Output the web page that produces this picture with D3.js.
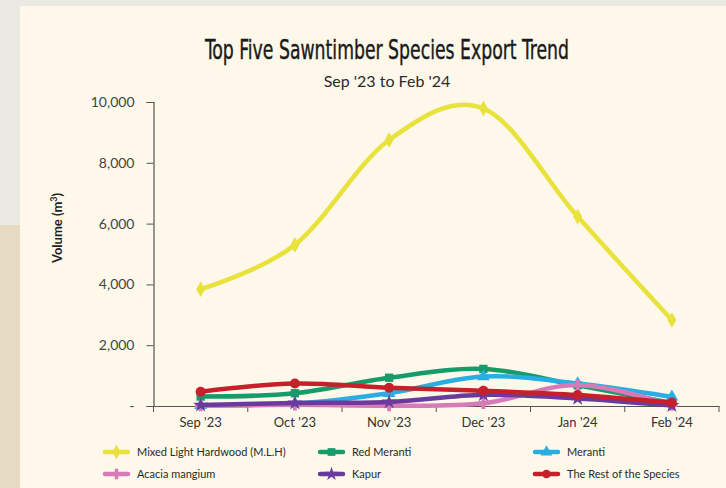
<!DOCTYPE html>
<html>
<head>
<meta charset="utf-8">
<script src="https://cdn.jsdelivr.net/npm/d3@7"></script>
<style>
  body { margin: 0; background: #ebe9e4; }
  svg { display: block; }
</style>
</head>
<body>
<div id="chart"></div>
<script>
// Data
var months = ["Sep '23", "Oct '23", "Nov '23", "Dec '23", "Jan '24", "Feb '24"];
var seriesNames = ["Mixed Light Hardwood (M.L.H)", "Red Meranti", "Meranti",
  "Acacia mangium", "Kapur", "The Rest of the Species"];
var mlh = [3840, 5300, 8750, 9790, 6230, 2830];
var redMeranti = [310, 420, 930, 1220, 680, 100];
var meranti = [20, 80, 420, 970, 740, 300];
var acacia = [10, 40, 10, 90, 690, 30];
var kapur = [30, 100, 130, 370, 250, 15];
var rest = [470, 740, 600, 500, 360, 110];
var yTicks = [0, 2000, 4000, 6000, 8000, 10000];

var allValues = [mlh, redMeranti, meranti, acacia, kapur, rest];
var colors = ["#e9e23c", "#169b6b", "#29aee3", "#d77ab7", "#6a3b9c", "#c6202b"];
var symbols = [d3.symbolDiamond, d3.symbolSquare, d3.symbolTriangle,
  d3.symbolCross, d3.symbolStar, d3.symbolCircle];

var svgWidth = 726;
var svgHeight = 488;

var svg = d3.select("#chart")
  .append("svg")
  .attr("width", svgWidth)
  .attr("height", svgHeight);

// backdrop: textured strip on the left, cream panel
svg.append("rect").attr("x", 0).attr("y", 0).attr("width", svgWidth).attr("height", svgHeight)
  .attr("fill", "#ebe9e4");
svg.append("rect").attr("x", 0).attr("y", 225).attr("width", 20).attr("height", 263)
  .attr("fill", "#e6dbc2");
svg.append("rect").attr("x", 20).attr("y", 6).attr("width", svgWidth - 20).attr("height", svgHeight - 6)
  .attr("fill", "#fdf8ea");

var labelFont = "Lato, 'Open Sans', sans-serif";

// titles
svg.append("text")
  .attr("x", 387)
  .attr("y", 59)
  .attr("text-anchor", "middle")
  .attr("font-family", "'Liberation Sans Narrow', 'DejaVu Sans Condensed', sans-serif")
  .attr("font-size", 27)
  .attr("fill", "#1a1a1a")
  .attr("stroke", "#1a1a1a")
  .attr("stroke-width", 0.4)
  .attr("textLength", 364)
  .attr("lengthAdjust", "spacingAndGlyphs")
  .text("Top Five Sawntimber Species Export Trend");

svg.append("text")
  .attr("x", 387)
  .attr("y", 87)
  .attr("text-anchor", "middle")
  .attr("font-family", labelFont)
  .attr("font-size", 16)
  .attr("fill", "#2a2a2a")
  .text("Sep '23 to Feb '24");

// scales
var x = d3.scaleBand()
  .domain(months)
  .range([153.5, 719]);

var y = d3.scaleLinear()
  .domain([0, 10000])
  .range([406, 102]);

// y axis
var leftAxis = d3.axisLeft(y)
  .tickValues(yTicks)
  .tickSize(7)
  .tickPadding(12)
  .tickFormat(d => d === 0 ? "-" : d3.format(",")(d));

var yAxisG = svg.append("g")
  .attr("transform", "translate(153.5,0)")
  .call(leftAxis);
yAxisG.select(".domain").attr("stroke", "#555").attr("stroke-width", 1.2);
yAxisG.selectAll(".tick line").attr("stroke", "#555");
yAxisG.selectAll("text")
  .attr("font-family", labelFont)
  .attr("font-size", 14)
  .attr("fill", "#444");

// x axis: ticks between the categories
var bottomAxis = d3.axisBottom(x).tickSize(0).tickPadding(12);
var xAxisG = svg.append("g")
  .attr("transform", "translate(0,406)")
  .call(bottomAxis);
xAxisG.select(".domain").attr("stroke", "#555").attr("stroke-width", 1.2);
xAxisG.selectAll("text")
  .attr("font-family", labelFont)
  .attr("font-size", 13)
  .attr("fill", "#333");

xAxisG.selectAll(".sep")
  .data(months.concat(["end"]))
  .enter()
  .append("line")
  .attr("x1", (d, i) => x.range()[0] + i * x.bandwidth())
  .attr("x2", (d, i) => x.range()[0] + i * x.bandwidth())
  .attr("y1", 0)
  .attr("y2", 6)
  .attr("stroke", "#555");

// y axis title
svg.append("text")
  .attr("transform", "translate(62,228) rotate(-90)")
  .attr("text-anchor", "middle")
  .attr("font-family", labelFont)
  .attr("font-size", 13)
  .attr("font-weight", "bold")
  .attr("fill", "#1f1f1f")
  .html("Volume (m<tspan baseline-shift='super' font-size='9'>3</tspan>)");

// lines
var line = d3.line()
  .x((d, i) => x(months[i]) + x.bandwidth() / 2)
  .y(d => y(d))
  .curve(d3.curveCardinal.tension(0));

allValues.forEach(function(vals, s) {
  svg.append("path")
    .datum(vals)
    .attr("d", line)
    .attr("fill", "none")
    .attr("stroke", colors[s])
    .attr("stroke-width", 4.5)
    .attr("stroke-linecap", "round");

  svg.append("g")
    .selectAll("path")
    .data(vals)
    .enter()
    .append("path")
    .attr("transform", (d, i) => `translate(${x(months[i]) + x.bandwidth() / 2},${y(d)})`)
    .attr("d", d3.symbol().type(symbols[s]).size(s === 5 ? 80 : 70))
    .attr("fill", colors[s]);
});

// legend
var legendX = [105, 320, 535];
var legendY = [452, 474];

var legend = svg.append("g")
  .selectAll("g")
  .data(seriesNames)
  .enter()
  .append("g")
  .attr("transform", (d, i) => `translate(${legendX[i % 3]},${legendY[Math.floor(i / 3)]})`);

legend.append("line")
  .attr("x1", 0).attr("x2", 23)
  .attr("y1", 0).attr("y2", 0)
  .attr("stroke", (d, i) => colors[i])
  .attr("stroke-width", 4.5)
  .attr("stroke-linecap", "round");

legend.append("path")
  .attr("transform", "translate(11.5,0)")
  .attr("d", (d, i) => d3.symbol().type(symbols[i]).size(60)())
  .attr("fill", (d, i) => colors[i]);

legend.append("text")
  .attr("x", 32)
  .attr("y", 4)
  .attr("font-family", labelFont)
  .attr("font-size", 11)
  .attr("fill", "#2a2a2a")
  .text(d => d);
</script>
</body>
</html>
